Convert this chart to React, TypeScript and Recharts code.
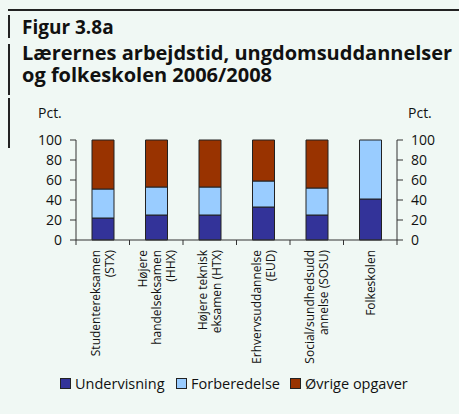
import React from "react";
import { ComposedChart, Bar, Line, XAxis, YAxis } from "recharts";

const categories = [
  "Studentereksamen\n(STX)",
  "Højere\nhandelseksamen\n(HHX)",
  "Højere teknisk\neksamen (HTX)",
  "Erhvervsuddannelse\n(EUD)",
  "Social/sundhedsudd\nannelse (SOSU)",
  "Folkeskolen",
];
const undervisning = [22, 25, 25, 33, 25, 41];
const forberedelse = [29, 28, 28, 26, 27, 59];
const ovrige = [49, 47, 47, 41, 48, 0];
const yTicks = [0, 20, 40, 60, 80, 100];

const seriesNames = ["Undervisning", "Forberedelse", "Øvrige opgaver"];
const seriesColors = ["#333399", "#99CCFF", "#993300"];
const legendItemWidths = [116, 114, 130];

const data = categories.map((c, i) => ({
  name: c,
  u: undervisning[i],
  f: forberedelse[i],
  o: ovrige[i],
}));

const FONT = "'Open Sans', 'DejaVu Sans', sans-serif";
const BG = "#F0F8F4";

const XTick = (props: any) => {
  const { x, y, payload, index, width } = props;
  const bw = (width || 321) / categories.length;
  const lines = String(payload.value).split("\n");
  const fs = 12;
  const lh = 14;
  return (
    <g>
      <line x1={x - bw / 2} x2={x - bw / 2} y1={y} y2={y + 5} stroke="#333" strokeWidth={1} />
      {index === categories.length - 1 && (
        <line x1={x + bw / 2} x2={x + bw / 2} y1={y} y2={y + 5} stroke="#333" strokeWidth={1} />
      )}
      <text
        transform={`translate(${x}, ${y + 10}) rotate(-90)`}
        textAnchor="end"
        fontSize={fs}
        fontFamily={FONT}
        fill="#111"
      >
        {lines.map((l, i) => (
          <tspan key={i} x={0} y={(i - (lines.length - 1) / 2) * lh + 0.36 * fs}>
            {l}
          </tspan>
        ))}
      </text>
    </g>
  );
};

export default function App() {
  return (
    <div
      style={{
        position: "fixed",
        left: 0,
        top: 0,
        width: 459,
        height: 414,
        background: BG,
        fontFamily: FONT,
        overflow: "hidden",
      }}
    >
      {/* decorative rules */}
      <div style={{ position: "absolute", left: 8, top: 9, width: 451, height: 1.5, background: "#222" }} />
      <div style={{ position: "absolute", left: 8, top: 15, width: 1.5, height: 23, background: "#222" }} />
      <div style={{ position: "absolute", left: 8, top: 44, width: 1.5, height: 51, background: "#222" }} />
      <div style={{ position: "absolute", left: 8, top: 98, width: 1.5, height: 50, background: "#222" }} />

      <div
        style={{
          position: "absolute",
          left: 22,
          top: 14,
          fontSize: 19,
          fontWeight: 700,
          lineHeight: "26px",
          color: "#111",
          whiteSpace: "nowrap",
        }}
      >
        Figur 3.8a
      </div>
      <div
        style={{
          position: "absolute",
          left: 22,
          top: 42,
          fontSize: 20,
          fontWeight: 700,
          lineHeight: "22px",
          color: "#111",
          whiteSpace: "nowrap",
        }}
      >
        <div>Lærernes arbejdstid, ungdomsuddannelser</div>
        <div>og folkeskolen 2006/2008</div>
      </div>

      <div style={{ position: "absolute", left: 38, top: 103, fontSize: 14, color: "#111" }}>Pct.</div>
      <div style={{ position: "absolute", left: 408, top: 103, fontSize: 14, color: "#111" }}>Pct.</div>

      <div style={{ position: "absolute", left: 0, top: 0 }}>
        <ComposedChart
          width={459}
          height={414}
          data={data}
          margin={{ top: 140, right: 22, bottom: 49, left: 36 }}
          barSize={22}
        >
          <XAxis
            dataKey="name"
            xAxisId="x"
            height={125}
            tick={<XTick />}
            tickLine={false}
            tickSize={0}
            tickMargin={0}
            interval={0}
            axisLine={{ stroke: "#333", strokeWidth: 1 }}
          />
          <YAxis
            yAxisId="l"
            width={40}
            domain={[0, 100]}
            ticks={yTicks}
            tickSize={6}
            tickMargin={8}
            interval={0}
            axisLine={{ stroke: "#333", strokeWidth: 1 }}
            tickLine={{ stroke: "#333", strokeWidth: 1 }}
            tick={{ fill: "#111", fontSize: 14, fontFamily: FONT }}
          />
          <YAxis
            yAxisId="r"
            orientation="right"
            width={40}
            domain={[0, 100]}
            ticks={yTicks}
            tickSize={6}
            tickMargin={8}
            interval={0}
            axisLine={{ stroke: "#333", strokeWidth: 1 }}
            tickLine={{ stroke: "#333", strokeWidth: 1 }}
            tick={{ fill: "#111", fontSize: 14, fontFamily: FONT, textAnchor: "start" }}
          />
          <Bar xAxisId="x" yAxisId="l" dataKey="u" stackId="a" fill={seriesColors[0]} stroke="#222" strokeWidth={1} isAnimationActive={false} />
          <Bar xAxisId="x" yAxisId="l" dataKey="f" stackId="a" fill={seriesColors[1]} stroke="#222" strokeWidth={1} isAnimationActive={false} />
          <Bar xAxisId="x" yAxisId="l" dataKey="o" stackId="a" fill={seriesColors[2]} stroke="#222" strokeWidth={1} isAnimationActive={false} />
          <Line
            xAxisId="x"
            yAxisId="r"
            dataKey="u"
            stroke="none"
            strokeOpacity={0}
            dot={false}
            activeDot={false}
            legendType="none"
            isAnimationActive={false}
          />
        </ComposedChart>
      </div>

      <div
        style={{
          position: "absolute",
          left: 60,
          top: 374,
          display: "flex",
          alignItems: "center",
          fontSize: 14.5,
          color: "#111",
          whiteSpace: "nowrap",
        }}
      >
        {seriesNames.map((n, i) => (
          <div key={n} style={{ display: "flex", alignItems: "center", width: legendItemWidths[i] }}>
            <div
              style={{
                width: 9,
                height: 9,
                background: seriesColors[i],
                border: "1px solid #222",
                marginRight: 4,
                flexShrink: 0,
              }}
            />
            <span>{n}</span>
          </div>
        ))}
      </div>
    </div>
  );
}
